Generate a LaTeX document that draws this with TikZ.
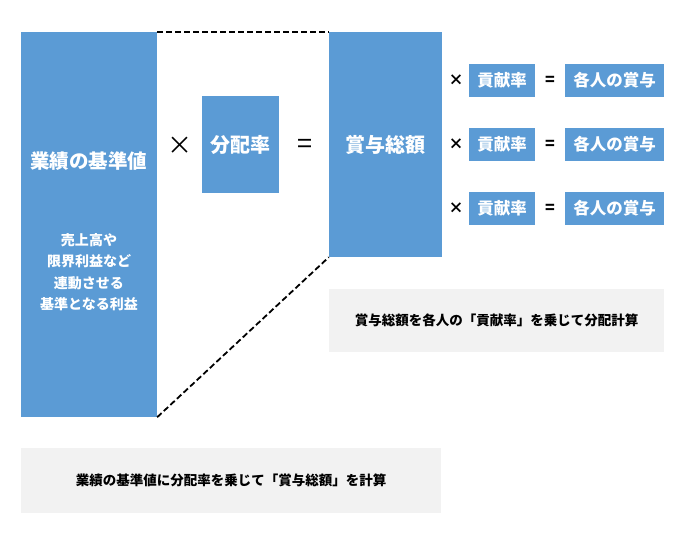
\documentclass[tikz,border=0pt]{standalone}
\usepackage{fontspec}
\setmainfont{Noto Sans CJK JP}
\usepackage{tikz}
\usepackage{pgf,pgffor}

\definecolor{boxblue}{HTML}{5B9BD5}
\definecolor{notegray}{HTML}{F2F2F2}

\tikzset{
	bluebox/.style={fill=boxblue, text=white, inner sep=0pt, font=\bfseries},
	notebox/.style={fill=notegray, inner sep=0pt, font=\bfseries\fontsize{13.5}{16}\selectfont},
	link/.style={draw=black, line width=1.8pt, dash pattern=on 6pt off 3pt},
}

\begin{document}
\begin{tikzpicture}[x=1pt, y=-1pt]
			\useasboundingbox (0,0) rectangle (685,545);

			\node [bluebox, minimum width=136pt, minimum height=385pt] (base) at (89,224.5) {};
			\node [text=white, font=\bfseries\fontsize{19.5}{22}\selectfont] (basetitle) at (89,161) {業績の基準値};
			\node [text=white, align=center, font=\bfseries\fontsize{14}{21.5}\selectfont] (basenote) at (89,272) {売上高や\\限界利益など\\連動させる\\基準となる利益};

			\node [font=\fontsize{25}{25}\selectfont] (times) at (180,146) {×};
			\node [bluebox, minimum width=77pt, minimum height=97pt, font=\bfseries\fontsize{20}{22}\selectfont] (rate) at (240.5,144.5) {分配率};
			\node [font=\fontsize{27}{27}\selectfont] (equals) at (305,146) {=};

			\node [bluebox, minimum width=113pt, minimum height=225pt, font=\bfseries\fontsize{20}{22}\selectfont] (total) at (385.5,144.5) {賞与総額};

			\foreach \i/\y in {1/80.5, 2/144.5, 3/208.5} {
				\node [font=\bfseries\fontsize{15}{15}\selectfont] (x\i) at (456,\y) {×};
				\node [bluebox, minimum width=66pt, minimum height=33pt, font=\bfseries\fontsize{16.5}{18}\selectfont] (contrib\i) at (502,\y) {貢献率};
				\node [font=\bfseries\fontsize{16}{16}\selectfont] (eq\i) at (550,\y) {=};
				\node [bluebox, minimum width=99pt, minimum height=33pt, font=\bfseries\fontsize{16.5}{18}\selectfont] (share\i) at (614.5,\y) {各人の賞与};
			}

			\draw [link] (base.north east) -- (total.north west);
			\draw [link] (base.south east) -- (total.south west);

			\node [notebox, minimum width=335pt, minimum height=63pt] (note1) at (496.5,320.5) {賞与総額を各人の「貢献率」を乗じて分配計算};
			\node [notebox, minimum width=420pt, minimum height=65pt] (note2) at (231,480.5) {業績の基準値に分配率を乗じて「賞与総額」を計算};

		\end{tikzpicture}
\end{document}
